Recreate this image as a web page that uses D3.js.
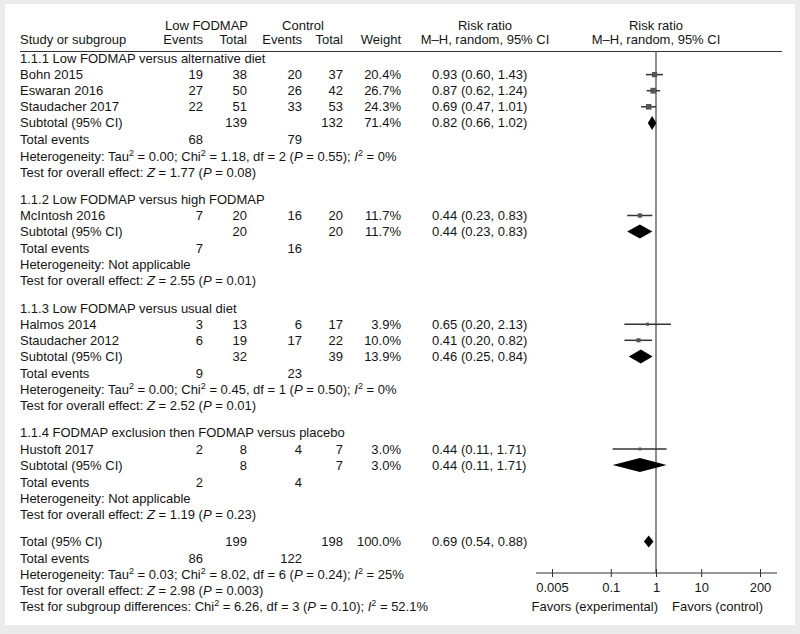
<!DOCTYPE html>
<html>
<head>
<meta charset="utf-8">
<script src="https://cdn.jsdelivr.net/npm/d3@7"></script>
<style>
  html, body { margin: 0; padding: 0; background: #ebebeb; }
  svg { display: block; }
  text { font-family: "Liberation Sans", Arial, Helvetica, sans-serif; font-size: 13px; fill: #151515; }
</style>
</head>
<body>
<svg id="chart" width="800" height="634"></svg>
<script>
// ---------------- DATA ----------------
const groupTitles = [
  "1.1.1 Low FODMAP versus alternative diet",
  "1.1.2 Low FODMAP versus high FODMAP",
  "1.1.3 Low FODMAP versus usual diet",
  "1.1.4 FODMAP exclusion then FODMAP versus placebo"
];
const studyNames   = ["Bohn 2015", "Eswaran 2016", "Staudacher 2017", "McIntosh 2016", "Halmos 2014", "Staudacher 2012", "Hustoft 2017"];
const studyGroup   = [0, 0, 0, 1, 2, 2, 3];
const studyEvExp   = [19, 27, 22, 7, 3, 6, 2];
const studyTotExp  = [38, 50, 51, 20, 13, 19, 8];
const studyEvCtl   = [20, 26, 33, 16, 6, 17, 4];
const studyTotCtl  = [37, 42, 53, 20, 17, 22, 7];
const studyWeight  = [20.4, 26.7, 24.3, 11.7, 3.9, 10.0, 3.0];
const studyRR      = [0.93, 0.87, 0.69, 0.44, 0.65, 0.41, 0.44];
const studyLo      = [0.60, 0.62, 0.47, 0.23, 0.20, 0.20, 0.11];
const studyHi      = [1.43, 1.24, 1.01, 0.83, 2.13, 0.82, 1.71];

const subTotExp    = [139, 20, 32, 8];
const subTotCtl    = [132, 20, 39, 7];
const subWeight    = [71.4, 11.7, 13.9, 3.0];
const subRR        = [0.82, 0.44, 0.46, 0.44];
const subLo        = [0.66, 0.23, 0.25, 0.11];
const subHi        = [1.02, 0.83, 0.84, 1.71];
const subEvExp     = [68, 7, 9, 2];
const subEvCtl     = [79, 16, 23, 4];
const subHetTau    = ["0.00", null, "0.00", null];
const subHetChi    = ["1.18", null, "0.45", null];
const subHetDf     = [2, null, 1, null];
const subHetP      = ["0.55", null, "0.50", null];
const subHetI2     = ["0%", null, "0%", null];
const subZ         = ["1.77", "2.55", "2.52", "1.19"];
const subP         = ["0.08", "0.01", "0.01", "0.23"];

const totalTotExp = 199, totalTotCtl = 198, totalWeight = 100.0;
const totalRR = 0.69, totalLo = 0.54, totalHi = 0.88;
const totalEvExp = 86, totalEvCtl = 122;
const totalHet = { tau: "0.03", chi: "8.02", df: 6, p: "0.24", i2: "25%" };
const totalTest = { z: "2.98", p: "0.003" };
const subgroupTest = { chi: "6.26", df: 3, p: "0.10", i2: "52.1%" };

const tickValues = [0.005, 0.1, 1, 10, 200];
const tickLabels = ["0.005", "0.1", "1", "10", "200"];
const favLeft = "Favors (experimental)";
const favRight = "Favors (control)";

// ---------------- LAYOUT ----------------
const svg = d3.select("#chart");
svg.append("rect").attr("x", 5).attr("y", 4).attr("width", 790).attr("height", 621).attr("fill", "#ffffff");

const col = { name: 20, evE: 203, totE: 247, evC: 302, totC: 343, weight: 401, ci: 432 };
const x = d3.scaleLog().domain([0.005, 200]).range([552, 760]);
const fmt2 = d3.format(".2f");
const ciText = (r, l, h) => `${fmt2(r)} (${fmt2(l)}, ${fmt2(h)})`;
const wText = w => d3.format(".1f")(w) + "%";
const sizeScale = d3.scaleSqrt().domain([0, 30]).range([1.5, 6]);

// build rows
const rows = [];
groupTitles.forEach((t, g) => {
  rows.push({ type: "title", g });
  studyNames.forEach((n, i) => { if (studyGroup[i] === g) rows.push({ type: "study", i }); });
  rows.push({ type: "subtotal", g });
  rows.push({ type: "events", g });
  rows.push({ type: "het", g });
  rows.push({ type: "test", g });
});
rows.push({ type: "total" });
rows.push({ type: "totEvents" });
rows.push({ type: "totHet" });
rows.push({ type: "totTest" });
rows.push({ type: "subTest" });

// y positions by accumulating steps
let yCur = 58.5;
rows.forEach((r, k) => {
  if (k > 0) {
    const prev = rows[k - 1];
    let step = 16.1;
    if (r.type === "events" || r.type === "totEvents") step = 17;
    if (prev.type === "test" && (r.type === "title" || r.type === "total")) step = 27.3;
    yCur += step;
  }
  r.y = yCur;
});

function rich(sel, parts) {
  let sup = false;
  parts.forEach(p => {
    const ts = sel.append("tspan").text(p[0]);
    if (p[1] === "i") ts.attr("font-style", "italic");
    if (p[1] === "s") { ts.attr("font-size", 9).attr("dy", -5); sup = true; }
    else if (sup) { ts.attr("dy", 5); sup = false; }
  });
}
function txt(xp, y, s, anchor) {
  return svg.append("text").attr("x", xp).attr("y", y).attr("dy", "0.35em")
    .attr("text-anchor", anchor || "start").text(s);
}
const hetParts = (tau, chi, df, p, i2) => [
  ["Heterogeneity: Tau"], ["2", "s"], [" = " + tau + "; Chi"], ["2", "s"],
  [" = " + chi + ", df = " + df + " ("], ["P", "i"], [" = " + p + "); "], ["I", "i"], ["2", "s"], [" = " + i2]
];
const testParts = (z, p) => [["Test for overall effect: "], ["Z", "i"], [" = " + z + " ("], ["P", "i"], [" = " + p + ")"]];

// header
const hy1 = 25.5, hy2 = 39.5;
txt((col.evE - 37 + col.totE) / 2, hy1, "Low FODMAP", "middle");
txt((col.evC - 39 + col.totC) / 2, hy1, "Control", "middle");
txt(485, hy1, "Risk ratio", "middle");
txt(x(1), hy1, "Risk ratio", "middle");
txt(col.name, hy2, "Study or subgroup");
txt(col.evE, hy2, "Events", "end");
txt(col.totE, hy2, "Total", "end");
txt(col.evC, hy2, "Events", "end");
txt(col.totC, hy2, "Total", "end");
txt(col.weight, hy2, "Weight", "end");
txt(485, hy2, "M\u2013H, random, 95% CI", "middle");
txt(x(1), hy2, "M\u2013H, random, 95% CI", "middle");

const headerLineY = 51.5;
svg.append("line").attr("x1", 20).attr("x2", 782).attr("y1", headerLineY).attr("y2", headerLineY)
  .attr("stroke", "#333").attr("stroke-width", 1);

// axis
const axisY = 573;
const plot = svg.append("g");
plot.append("line").attr("x1", x(1)).attr("x2", x(1)).attr("y1", headerLineY).attr("y2", axisY)
  .attr("stroke", "#808080").attr("stroke-width", 1.8);

const axisG = svg.append("g").attr("transform", `translate(0,${axisY})`)
  .call(d3.axisBottom(x).tickValues(tickValues).tickFormat((d, i) => tickLabels[i]).tickSize(8).tickSizeOuter(0));
axisG.select(".domain").remove();
axisG.selectAll(".tick line").attr("y1", -4).attr("y2", 4).attr("stroke", "#333");
axisG.selectAll(".tick text").attr("y", 14).attr("dy", "0.35em")
  .style("font-family", '"Liberation Sans", Arial, Helvetica, sans-serif').style("font-size", "13px").attr("fill", "#151515");
axisG.append("line").attr("x1", x.range()[0] - 16).attr("x2", x.range()[1] + 17).attr("y1", 0).attr("y2", 0)
  .attr("stroke", "#333").attr("stroke-width", 1);
txt(x(1) + 2, axisY + 33, favLeft, "end");
txt(x(1) + 16, axisY + 33, favRight, "start");

function diamond(y, r, l, h, half) {
  const pts = [[x(l), y], [x(r), y - half], [x(h), y], [x(r), y + half]];
  plot.append("path").attr("d", d3.line()(pts) + "Z").attr("fill", "#000");
}

rows.forEach(r => {
  const y = r.y;
  if (r.type === "title") txt(col.name, y, groupTitles[r.g]);
  else if (r.type === "study") {
    const i = r.i;
    txt(col.name, y, studyNames[i]);
    txt(col.evE, y, studyEvExp[i], "end");
    txt(col.totE, y, studyTotExp[i], "end");
    txt(col.evC, y, studyEvCtl[i], "end");
    txt(col.totC, y, studyTotCtl[i], "end");
    txt(col.weight, y, wText(studyWeight[i]), "end");
    txt(col.ci, y, ciText(studyRR[i], studyLo[i], studyHi[i]));
    plot.append("line").attr("x1", x(studyLo[i])).attr("x2", x(studyHi[i])).attr("y1", y).attr("y2", y)
      .attr("stroke", "#333").attr("stroke-width", 1.5);
    const s = sizeScale(studyWeight[i]);
    plot.append("rect").attr("x", x(studyRR[i]) - s / 2).attr("y", y - s / 2).attr("width", s).attr("height", s)
      .attr("fill", "#555");
  } else if (r.type === "subtotal") {
    const g = r.g;
    txt(col.name, y, "Subtotal (95% CI)");
    txt(col.totE, y, subTotExp[g], "end");
    txt(col.totC, y, subTotCtl[g], "end");
    txt(col.weight, y, wText(subWeight[g]), "end");
    txt(col.ci, y, ciText(subRR[g], subLo[g], subHi[g]));
    diamond(y, subRR[g], subLo[g], subHi[g], 7);
  } else if (r.type === "events") {
    txt(col.name, y, "Total events");
    txt(col.evE, y, subEvExp[r.g], "end");
    txt(col.evC, y, subEvCtl[r.g], "end");
  } else if (r.type === "het") {
    const g = r.g;
    if (subHetTau[g] === null) txt(col.name, y, "Heterogeneity: Not applicable");
    else rich(txt(col.name, y, ""), hetParts(subHetTau[g], subHetChi[g], subHetDf[g], subHetP[g], subHetI2[g]));
  } else if (r.type === "test") {
    rich(txt(col.name, y, ""), testParts(subZ[r.g], subP[r.g]));
  } else if (r.type === "total") {
    txt(col.name, y, "Total (95% CI)");
    txt(col.totE, y, totalTotExp, "end");
    txt(col.totC, y, totalTotCtl, "end");
    txt(col.weight, y, wText(totalWeight), "end");
    txt(col.ci, y, ciText(totalRR, totalLo, totalHi));
    diamond(y, totalRR, totalLo, totalHi, 6);
  } else if (r.type === "totEvents") {
    txt(col.name, y, "Total events");
    txt(col.evE, y, totalEvExp, "end");
    txt(col.evC, y, totalEvCtl, "end");
  } else if (r.type === "totHet") {
    rich(txt(col.name, y, ""), hetParts(totalHet.tau, totalHet.chi, totalHet.df, totalHet.p, totalHet.i2));
  } else if (r.type === "totTest") {
    rich(txt(col.name, y, ""), testParts(totalTest.z, totalTest.p));
  } else if (r.type === "subTest") {
    rich(txt(col.name, y, ""), [["Test for subgroup differences: Chi"], ["2", "s"],
      [" = " + subgroupTest.chi + ", df = " + subgroupTest.df + " ("], ["P", "i"],
      [" = " + subgroupTest.p + "); "], ["I", "i"], ["2", "s"], [" = " + subgroupTest.i2]]);
  }
});
</script>
</body>
</html>
